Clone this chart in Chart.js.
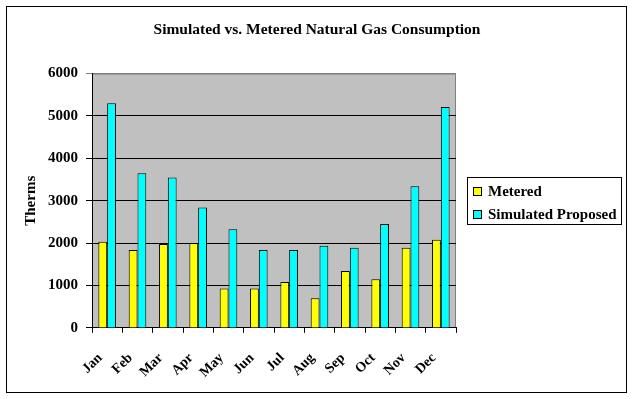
<!DOCTYPE html>
<html>
<head>
<meta charset="utf-8">
<script src="https://cdn.jsdelivr.net/npm/chart.js"></script>
<style>
  html, body { margin: 0; padding: 0; background: #fff; }
  canvas { display: block; }
</style>
</head>
<body>
<canvas id="myChart" width="634" height="399"></canvas>
<script>
// values (therms)
const months = ['Jan', 'Feb', 'Mar', 'Apr', 'May', 'Jun', 'Jul', 'Aug', 'Sep', 'Oct', 'Nov', 'Dec'];
const metered = [2030, 1840, 1980, 2000, 930, 930, 1080, 700, 1340, 1150, 1890, 2080];
const simulated = [5300, 3650, 3550, 2840, 2330, 1840, 1840, 1940, 1890, 2450, 3340, 5210];
const yTicks = [0, 1000, 2000, 3000, 4000, 5000, 6000];

const serif = 'Liberation Serif, Times New Roman, serif';
const legendFont = 'bold 15px ' + serif;

// grey plot background, outer frame, and an Excel-style boxed legend
const decor = {
  id: 'decor',
  beforeDraw(chart) {
    const { ctx, chartArea: a } = chart;
    ctx.save();
    ctx.fillStyle = '#fff';
    ctx.fillRect(0, 0, chart.width, chart.height);
    ctx.strokeStyle = '#000';
    ctx.lineWidth = 1;
    ctx.strokeRect(6.5, 6.5, 620, 386);
    ctx.fillStyle = '#c0c0c0';
    ctx.fillRect(a.left, a.top, a.right - a.left, a.bottom - a.top);
    ctx.strokeStyle = '#808080';
    ctx.beginPath();
    ctx.moveTo(a.left, a.top + 0.5);
    ctx.lineTo(a.right - 0.5, a.top + 0.5);
    ctx.lineTo(a.right - 0.5, a.bottom);
    ctx.stroke();
    ctx.restore();
  },
  afterDraw(chart) {
    const { ctx, chartArea: a } = chart;
    const sets = chart.data.datasets;
    ctx.save();
    ctx.font = legendFont;
    const textW = Math.max(...sets.map(d => ctx.measureText(d.label).width));
    const rowH = 23;
    const w = Math.round(6 + 9 + 6 + textW + 5);
    const h = rowH * sets.length + 1;
    const x0 = Math.round(a.right + 11);
    const y0 = Math.round((a.top + a.bottom) / 2 - h / 2);
    ctx.strokeStyle = '#000';
    ctx.lineWidth = 1;
    ctx.strokeRect(x0 + 0.5, y0 + 0.5, w, h);
    ctx.textBaseline = 'middle';
    sets.forEach((d, i) => {
      const cy = y0 + 14 + i * rowH;
      ctx.fillStyle = d.backgroundColor;
      ctx.fillRect(x0 + 6, cy - 4, 9, 9);
      ctx.strokeRect(x0 + 6.5, cy - 3.5, 8, 8);
      ctx.fillStyle = '#000';
      ctx.fillText(d.label, x0 + 21, cy + 1);
    });
    ctx.restore();
  }
};

new Chart(document.getElementById('myChart'), {
  type: 'bar',
  data: {
    labels: months,
    datasets: [
      {
        label: 'Metered',
        data: metered,
        backgroundColor: '#ffff00',
        borderColor: '#000',
        borderWidth: 1,
        borderSkipped: 'bottom',
        categoryPercentage: 0.58,
        barPercentage: 1.0
      },
      {
        label: 'Simulated Proposed',
        data: simulated,
        backgroundColor: '#00ffff',
        borderColor: '#000',
        borderWidth: 1,
        borderSkipped: 'bottom',
        categoryPercentage: 0.58,
        barPercentage: 1.0
      }
    ]
  },
  options: {
    responsive: false,
    animation: false,
    devicePixelRatio: 1,
    layout: { padding: { left: 14, right: 14, top: 21, bottom: 1 } },
    plugins: {
      title: {
        display: true,
        text: 'Simulated vs. Metered Natural Gas Consumption',
        color: '#000',
        font: { family: serif, size: 15.5, weight: 'bold' },
        padding: { top: 0, bottom: 34 }
      },
      legend: { display: false },
      tooltip: { enabled: false }
    },
    scales: {
      x: {
        offset: true,
        grid: {
          offset: true,
          drawOnChartArea: false,
          color: '#000',
          tickLength: 5
        },
        border: { color: '#000' },
        ticks: {
          color: '#000',
          font: { family: serif, size: 14, weight: 'bold' },
          minRotation: 45,
          maxRotation: 45,
          padding: 17,
          labelOffset: -7
        }
      },
      y: {
        min: 0,
        max: 6000,
        afterBuildTicks(scale) { scale.ticks = yTicks.map(v => ({ value: v })); },
        title: {
          display: true,
          text: 'Therms',
          color: '#000',
          font: { family: serif, size: 15, weight: 'bold' },
          padding: { top: 8, bottom: 0 }
        },
        grid: {
          color: ctx => (ctx.tick && ctx.tick.value === 6000 ? '#808080' : '#000'),
          tickLength: 6
        },
        border: { color: '#000' },
        ticks: {
          color: '#000',
          font: { family: serif, size: 15, weight: 'bold' },
          padding: 8,
          callback: v => String(v)
        }
      },
      // empty room on the right that holds the legend box
      legendRoom: {
        type: 'linear',
        position: 'right',
        display: true,
        grid: { display: false },
        border: { display: false },
        ticks: { display: false },
        afterFit(scale) { scale.width = 164; }
      }
    }
  },
  plugins: [decor]
});
</script>
</body>
</html>
